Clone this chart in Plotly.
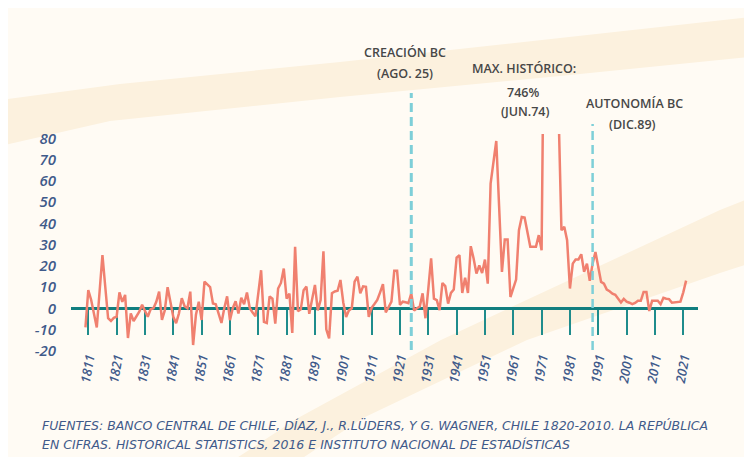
import plotly.graph_objects as go

# Inflación anual en Chile (%), lectura del gráfico de referencia
YEARS = list(range(1810, 2023))
INFLATION = [
    -9, 8.5, 4, -2, -9, 8, 25, 10, -4.7, -6,            # 1810
    -4.5, -4, 7.5, 3, 6.3, -14, -2.4, -6, -4, -1.6,     # 1820
    1.6, -1, -4, -0.5, 0, 3, 7.8, -5.5, -1, 9.9,        # 1830
    2, -4, -7, -2.4, 4.7, 1, 0, 7.8, -17.3, -3,         # 1840
    3.1, -5.5, 12.5, 11, 10, 2.2, 1.9, -2.5, -6.9, 0,   # 1850
    5.6, -5.6, 0, 3.3, -2.5, 4.9, 1.9, 7.4, 0, -2,      # 1860
    -3.8, 7, 17.9, -6.4, -6.9, 5.6, 4.5, -7.2, 9.3, 11.9,   # 1870
    18.7, 4.5, 6.9, -11.6, 28.9, -1.4, -0.5, 8.5, 10.2, -2.6,  # 1880
    4, 11, -1, 3.9, 26.8, -9.9, -14.2, 7.1, 7.9, 8.2,   # 1890
    13.3, 2.7, -4.1, -1, 0, 12.5, 14.9, 7, 10.3, 10.1,  # 1900
    -4.1, 0.2, 2, 3.9, 7.5, 11.3, -2, 0.5, 3.1, 17.6,   # 1910
    17.6, 1.6, 3.1, 2.8, 2.4, 7, -1.1, 0, 0.8, 7,       # 1920
    -4.7, 9, 23.5, 4.5, 3.8, -0.9, 11.9, 10.4, 2.2, 7.2,    # 1930
    8.8, 23.8, 25, 7.2, 14.4, 7.2, 29.2, 23.4, 16.3, 20.2,  # 1940
    16.6, 22.9, 11.6, 58.7, 68, 78.7, 48, 17.1, 32.3, 32.3,  # 1950
    5.3, 9, 13.5, 36.7, 43, 42.7, 35, 28.9, 28.9, 28.9,     # 1960
    34.4, 27.3, 163, 508, 376, 341, 174, 92, 36.7, 38.3,    # 1970
    32, 9.3, 21, 22.9, 22.9, 25.4, 17.1, 21, 12.9, 21,      # 1980
    26.5, 18.5, 12.4, 11.6, 8.8, 8, 6.9, 6.3, 4.7, 2.7,     # 1990
    4.4, 3.1, 2.6, 1.9, 2.5, 3.5, 3.5, 7.7, 7.7, -1.3,      # 2000
    3.5, 3.5, 3.5, 1.9, 4.9, 4.5, 4.3, 2.6, 2.8, 3,         # 2010
    3.1, 7.5, 13,                                           # 2020
]
TICK_YEARS = [1811, 1821, 1831, 1841, 1851, 1861, 1871, 1881, 1891, 1901, 1911,
              1921, 1931, 1941, 1951, 1961, 1971, 1981, 1991, 2001, 2011, 2021]
Y_TICKS = [-20, -10, 0, 10, 20, 30, 40, 50, 60, 70, 80]

EVENT_YEARS = {"creacion": 1925, "autonomia": 1989}

# la página deja 8px de margen alrededor del gráfico
W, H = 744, 449
ML, MR, MT, MB = 63, 54, 126, 102
X0, X1 = 1804.9, 2026.2
Y0, Y1 = -22, 82

TEAL = "#117E7F"
SALMON = "#F0806F"
BLUE = "#3F5A8A"
GRAY = "#474747"
CYAN = "#7ECFD8"
BAND = "#FCF1DE"
BG = "#FFFBF4"

PW, PH = W - ML - MR, H - MT - MB
SX, SY = 8 + ML, 8 + MT + PH   # esquina inferior izquierda del área, en pantalla


def px(x):  # pixel de pantalla -> paper x
    return (x - SX) / PW


def py(y):  # pixel de pantalla -> paper y
    return (SY - y) / PH


def xpaper(year):
    return (year - X0) / (X1 - X0)


def band_path(points):
    return "M " + " L ".join(f"{px(a):.4f},{py(b):.4f}" for a, b in points) + " Z"


fig = go.Figure()

fig.add_trace(go.Scatter(
    x=YEARS, y=INFLATION, mode="lines",
    line=dict(color=SALMON, width=2.5),
    hoverinfo="x+y", showlegend=False,
))

shapes = [
    # franja curva superior
    dict(type="path", xref="paper", yref="paper", layer="below", line_width=0,
         fillcolor=BAND,
         path=band_path([(0, 100), (120, 84), (340, 62), (560, 38), (760, 16),
                         (760, 56), (560, 76), (340, 97), (110, 121), (0, 146)])),
    # franja diagonal inferior
    dict(type="path", xref="paper", yref="paper", layer="below", line_width=0,
         fillcolor=BAND,
         path=band_path([(226, 465), (298, 418), (441, 340), (520, 303), (720, 210),
                         (760, 194), (760, 260), (720, 273), (527, 340), (363, 418),
                         (292, 465)])),
    # líneas de eventos
    dict(type="line", xref="paper", yref="paper",
         x0=xpaper(EVENT_YEARS["creacion"]), x1=xpaper(EVENT_YEARS["creacion"]),
         y0=py(350), y1=py(93),
         line=dict(color=CYAN, width=3, dash="9px,5px")),
    dict(type="line", xref="paper", yref="paper",
         x0=xpaper(EVENT_YEARS["autonomia"]), x1=xpaper(EVENT_YEARS["autonomia"]),
         y0=py(350), y1=py(124),
         line=dict(color=CYAN, width=2.5, dash="9px,5px")),
]

ann_font = dict(family="Open Sans", size=12.5, color=GRAY, weight=600)
notes = [
    ("CREACIÓN BC", 405, 52),
    ("(AGO. 25)", 405, 73),
    ("MAX. HISTÓRICO:", 524, 69),
    ("746%", 523, 92),
    ("(JUN.74)", 525, 112),
    ("AUTONOMÍA BC", 634, 103),
    ("(DIC.89)", 632, 125),
]
annotations = [
    dict(text=t, x=px(x), y=py(y), xref="paper", yref="paper",
         xanchor="center", yanchor="middle", showarrow=False, font=ann_font)
    for t, x, y in notes
]

foot_font = dict(family="DejaVu Sans", size=12.5, color=BLUE, style="italic")
annotations += [
    dict(text="FUENTES: BANCO CENTRAL DE CHILE, DÍAZ, J., R.LÜDERS, Y G. WAGNER, "
              "CHILE 1820-2010. LA REPÚBLICA",
         x=px(40), y=py(425), xref="paper", yref="paper", xanchor="left",
         yanchor="middle", showarrow=False, font=foot_font),
    dict(text="EN CIFRAS. HISTORICAL STATISTICS, 2016 E INSTITUTO NACIONAL DE ESTADÍSTICAS",
         x=px(40), y=py(444), xref="paper", yref="paper", xanchor="left",
         yanchor="middle", showarrow=False, font=foot_font),
]

fig.update_layout(
    width=W, height=H,
    margin=dict(l=ML, r=MR, t=MT, b=MB, autoexpand=False),
    paper_bgcolor=BG, plot_bgcolor="rgba(0,0,0,0)",
    showlegend=False,
    shapes=shapes,
    annotations=annotations,
    xaxis=dict(
        range=[X0, X1], anchor="free", position=(0 - Y0) / (Y1 - Y0),
        showline=True, linecolor=TEAL, linewidth=3,
        ticks="outside", ticklen=25, tickwidth=1.5, tickcolor="#1F8C8C",
        tickvals=TICK_YEARS, ticktext=[str(y) for y in TICK_YEARS],
        tickangle=-80, ticklabelstandoff=10,
        tickfont=dict(family="Open Sans", size=13, color=BLUE, style="italic", weight=600),
        showgrid=False, zeroline=False, layer="below traces", automargin=False,
    ),
    yaxis=dict(
        range=[Y0, Y1], tickvals=Y_TICKS, ticktext=[str(v) for v in Y_TICKS],
        showgrid=False, zeroline=False, showline=False, ticks="",
        ticklabelstandoff=14,
        tickfont=dict(family="Open Sans", size=15, color=BLUE, style="italic", weight=600),
        automargin=False,
    ),
)

fig.write_html("out.html")
